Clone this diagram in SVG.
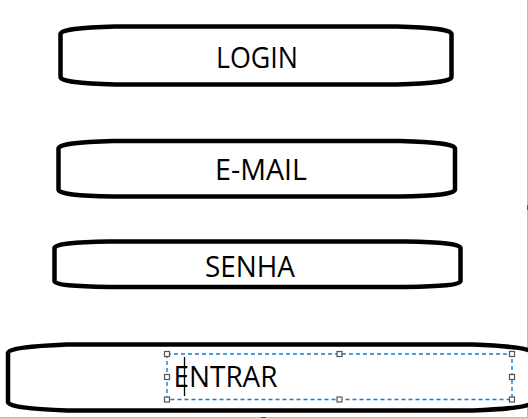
<svg xmlns="http://www.w3.org/2000/svg" width="528" height="418" viewBox="0 0 528 418">
<style>
.box{fill:#fff;stroke:#000;stroke-width:4.5;stroke-linejoin:round}
.lbl{font-family:"Open Sans","Liberation Sans",sans-serif;font-size:30px;fill:#000}
.sel{fill:none;stroke:#0a7fdc;stroke-width:1.4;stroke-dasharray:4 3}
.hdl{fill:#fff;stroke:#555;stroke-width:1.2}
.edge{stroke:#b3bccb;stroke-width:1}
</style>
<rect width="528" height="418" fill="#fff"/>
<line class="edge" x1="527.5" y1="0" x2="527.5" y2="418"/>
<rect x="527" y="205" width="1" height="5" fill="#555"/>
<line class="edge" x1="0" y1="417.5" x2="528" y2="417.5"/>
<rect x="261" y="417" width="5" height="1" fill="#555"/>
<g id="connectors"/>
<g id="login">
<path class="box" d="M60.5,34 C60.5,29.5 80,27.5 115,26.5 L397,26.5 C432,27.5 451.5,29.5 451.5,34 L451.5,77 C451.5,81.5 432,83.5 397,84.5 L115,84.5 C80,83.5 60.5,81.5 60.5,77 Z"/>
<text class="lbl" x="216" y="68.3" textLength="82" lengthAdjust="spacingAndGlyphs">LOGIN</text>
</g>
<g id="email">
<path class="box" d="M58.5,148.5 C58.5,144 78,142 113,141 L400,141 C435,142 455,144 455,148.5 L455,189.5 C455,194 435,196 400,196.5 L113,196.5 C78,196 58.5,194 58.5,189.5 Z"/>
<text class="lbl" x="215" y="180" textLength="92" lengthAdjust="spacingAndGlyphs">E-MAIL</text>
</g>
<g id="senha">
<path class="box" d="M54.5,248 C54.5,244 74,242 109,241.5 L406,241.5 C441,242 460.5,244 460.5,248 L460.5,281 C460.5,285 441,286.5 406,287 L109,287 C74,286.5 54.5,285 54.5,281 Z"/>
<text class="lbl" x="205" y="277" textLength="90" lengthAdjust="spacingAndGlyphs">SENHA</text>
</g>
<g id="entrar">
<path class="box" d="M8,353 C8,348.5 30,346 67,344.5 L473,344.5 C510,346 532,348.5 532,353 L532,402 C532,406.5 510,409 473,410.5 L67,410.5 C30,409 8,406.5 8,402 Z"/>
<text class="lbl" x="173.5" y="387" textLength="104" lengthAdjust="spacingAndGlyphs">ENTRAR</text>
<rect class="sel" x="167" y="354" width="345" height="45.5"/>
<line x1="184.5" y1="357" x2="184.5" y2="396" stroke="#000" stroke-width="1.3"/>
<g>
<rect class="hdl" x="164.5" y="351.5" width="5" height="5"/>
<rect class="hdl" x="337" y="351.5" width="5" height="5"/>
<rect class="hdl" x="509.5" y="351.5" width="5" height="5"/>
<rect class="hdl" x="164.5" y="374.5" width="5" height="5"/>
<rect class="hdl" x="509.5" y="374.5" width="5" height="5"/>
<rect class="hdl" x="164.5" y="397" width="5" height="5"/>
<rect class="hdl" x="337" y="397" width="5" height="5"/>
<rect class="hdl" x="509.5" y="397" width="5" height="5"/>
</g>
</g>
</svg>
